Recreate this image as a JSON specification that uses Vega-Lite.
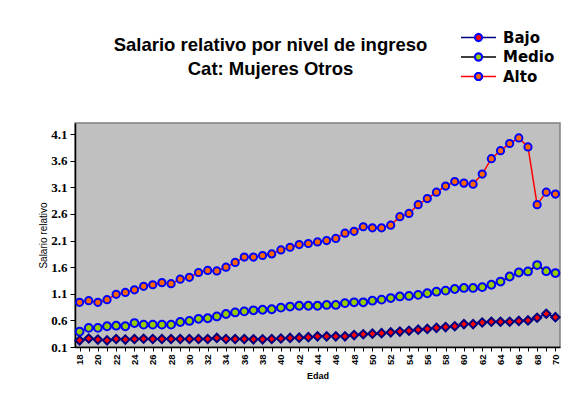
{
  "$schema": "https://vega.github.io/schema/vega-lite/v6.json",
  "width": 485,
  "height": 224,
  "autosize": {"type": "none"},
  "padding": {"left": 75, "top": 123, "right": 24, "bottom": 55},
  "background": "#FFFFFF",
  "title": {
    "text": ["Salario relativo por nivel de ingreso", "Cat: Mujeres Otros"],
    "font": "Liberation Sans",
    "fontSize": 18.5,
    "fontWeight": "bold",
    "color": "#000000",
    "anchor": "middle",
    "dx": -47,
    "dy": 112,
    "baseline": "alphabetic",
    "lineHeight": 24,
    "offset": 49
  },
  "data": {
    "values": [
      {"edad": 18, "Bajo": 0.225, "Medio": 0.39, "Alto": 0.94},
      {"edad": 19, "Bajo": 0.26, "Medio": 0.46, "Alto": 0.97},
      {"edad": 20, "Bajo": 0.24, "Medio": 0.46, "Alto": 0.94},
      {"edad": 21, "Bajo": 0.225, "Medio": 0.49, "Alto": 0.99},
      {"edad": 22, "Bajo": 0.25, "Medio": 0.5, "Alto": 1.09},
      {"edad": 23, "Bajo": 0.24, "Medio": 0.49, "Alto": 1.125},
      {"edad": 24, "Bajo": 0.25, "Medio": 0.55, "Alto": 1.175},
      {"edad": 25, "Bajo": 0.255, "Medio": 0.52, "Alto": 1.24},
      {"edad": 26, "Bajo": 0.25, "Medio": 0.52, "Alto": 1.27},
      {"edad": 27, "Bajo": 0.25, "Medio": 0.52, "Alto": 1.31},
      {"edad": 28, "Bajo": 0.25, "Medio": 0.52, "Alto": 1.29},
      {"edad": 29, "Bajo": 0.25, "Medio": 0.57, "Alto": 1.375},
      {"edad": 30, "Bajo": 0.25, "Medio": 0.59, "Alto": 1.41},
      {"edad": 31, "Bajo": 0.25, "Medio": 0.63, "Alto": 1.5},
      {"edad": 32, "Bajo": 0.25, "Medio": 0.64, "Alto": 1.54},
      {"edad": 33, "Bajo": 0.27, "Medio": 0.675, "Alto": 1.53},
      {"edad": 34, "Bajo": 0.25, "Medio": 0.72, "Alto": 1.6},
      {"edad": 35, "Bajo": 0.25, "Medio": 0.75, "Alto": 1.69},
      {"edad": 36, "Bajo": 0.25, "Medio": 0.77, "Alto": 1.79},
      {"edad": 37, "Bajo": 0.245, "Medio": 0.79, "Alto": 1.79},
      {"edad": 38, "Bajo": 0.245, "Medio": 0.8, "Alto": 1.82},
      {"edad": 39, "Bajo": 0.25, "Medio": 0.81, "Alto": 1.85},
      {"edad": 40, "Bajo": 0.26, "Medio": 0.84, "Alto": 1.925},
      {"edad": 41, "Bajo": 0.27, "Medio": 0.86, "Alto": 1.975},
      {"edad": 42, "Bajo": 0.275, "Medio": 0.875, "Alto": 2.025},
      {"edad": 43, "Bajo": 0.285, "Medio": 0.875, "Alto": 2.045},
      {"edad": 44, "Bajo": 0.3, "Medio": 0.875, "Alto": 2.075},
      {"edad": 45, "Bajo": 0.3, "Medio": 0.89, "Alto": 2.1},
      {"edad": 46, "Bajo": 0.3, "Medio": 0.89, "Alto": 2.14},
      {"edad": 47, "Bajo": 0.3, "Medio": 0.925, "Alto": 2.24},
      {"edad": 48, "Bajo": 0.325, "Medio": 0.94, "Alto": 2.275},
      {"edad": 49, "Bajo": 0.34, "Medio": 0.94, "Alto": 2.36},
      {"edad": 50, "Bajo": 0.35, "Medio": 0.97, "Alto": 2.34},
      {"edad": 51, "Bajo": 0.36, "Medio": 0.99, "Alto": 2.34},
      {"edad": 52, "Bajo": 0.375, "Medio": 1.02, "Alto": 2.39},
      {"edad": 53, "Bajo": 0.39, "Medio": 1.05, "Alto": 2.55},
      {"edad": 54, "Bajo": 0.405, "Medio": 1.06, "Alto": 2.61},
      {"edad": 55, "Bajo": 0.425, "Medio": 1.08, "Alto": 2.775},
      {"edad": 56, "Bajo": 0.44, "Medio": 1.11, "Alto": 2.89},
      {"edad": 57, "Bajo": 0.46, "Medio": 1.14, "Alto": 3.01},
      {"edad": 58, "Bajo": 0.475, "Medio": 1.16, "Alto": 3.125},
      {"edad": 59, "Bajo": 0.49, "Medio": 1.19, "Alto": 3.21},
      {"edad": 60, "Bajo": 0.53, "Medio": 1.21, "Alto": 3.18},
      {"edad": 61, "Bajo": 0.53, "Medio": 1.21, "Alto": 3.16},
      {"edad": 62, "Bajo": 0.56, "Medio": 1.225, "Alto": 3.35},
      {"edad": 63, "Bajo": 0.575, "Medio": 1.27, "Alto": 3.64},
      {"edad": 64, "Bajo": 0.575, "Medio": 1.33, "Alto": 3.79},
      {"edad": 65, "Bajo": 0.575, "Medio": 1.425, "Alto": 3.925},
      {"edad": 66, "Bajo": 0.59, "Medio": 1.5, "Alto": 4.03},
      {"edad": 67, "Bajo": 0.6, "Medio": 1.52, "Alto": 3.86},
      {"edad": 68, "Bajo": 0.65, "Medio": 1.64, "Alto": 2.775},
      {"edad": 69, "Bajo": 0.725, "Medio": 1.525, "Alto": 3.01},
      {"edad": 70, "Bajo": 0.66, "Medio": 1.49, "Alto": 2.975}
    ]
  },
  "transform": [
    {"fold": ["Bajo", "Medio", "Alto"], "as": ["serie", "valor"]}
  ],
  "encoding": {
    "x": {
      "field": "edad",
      "type": "quantitative",
      "scale": {"domain": [17.5, 70.5], "nice": false, "zero": false},
      "axis": {
        "title": "Edad",
        "values": [18,19,20,21,22,23,24,25,26,27,28,29,30,31,32,33,34,35,36,37,38,39,40,41,42,43,44,45,46,47,48,49,50,51,52,53,54,55,56,57,58,59,60,61,62,63,64,65,66,67,68,69,70],
        "labelExpr": "datum.value % 2 == 0 ? datum.label : ''",
        "labelAngle": 270,
        "labelFont": "Liberation Sans",
        "labelFontSize": 9.5,
        "labelFontWeight": "bold",
        "labelColor": "#000000",
        "labelPadding": 3,
        "labelOverlap": false,
        "labelBound": false,
        "tickColor": "#000000",
        "tickSize": 4,
        "domainColor": "#000000",
        "domainWidth": 1.5,
        "grid": false,
        "titleFont": "Liberation Sans",
        "titleFontSize": 9,
        "titleFontWeight": "bold",
        "titleColor": "#000000",
        "titlePadding": 7
      }
    },
    "y": {
      "field": "valor",
      "type": "quantitative",
      "scale": {"domain": [0.1, 4.31], "nice": false, "zero": false},
      "axis": {
        "title": "Salario relativo",
        "values": [0.1, 0.6, 1.1, 1.6, 2.1, 2.6, 3.1, 3.6, 4.1],
        "format": ".1f",
        "labelFont": "Liberation Sans Narrow",
        "labelFontSize": 13,
        "labelFontWeight": "bold",
        "labelColor": "#000000",
        "labelPadding": 3,
        "labelOverlap": false,
        "labelBound": false,
        "tickColor": "#000000",
        "tickSize": 5,
        "domainColor": "#000000",
        "domainWidth": 1.5,
        "grid": false,
        "titleFont": "Liberation Sans",
        "titleFontSize": 10,
        "titleFontWeight": "normal",
        "titleColor": "#000000",
        "titlePadding": 2
      }
    }
  },
  "layer": [
    {
      "mark": {"type": "line", "strokeWidth": 1.5},
      "encoding": {
        "stroke": {
          "field": "serie",
          "type": "nominal",
          "scale": {"domain": ["Bajo", "Medio", "Alto"], "range": ["#000080", "#000000", "#FF0000"]},
          "legend": {
            "title": null,
            "orient": "none",
            "legendX": 396,
            "legendY": -93,
            "symbolType": "M-5,0H5",
            "symbolSize": 49,
            "symbolStrokeWidth": 1.5,
            "labelFont": "DejaVu Sans",
            "labelFontSize": 15,
            "labelFontWeight": "bold",
            "labelColor": "#000000",
            "labelOffset": 17,
            "rowPadding": 3.5
          }
        }
      }
    },
    {
      "mark": {"type": "point", "filled": true, "strokeWidth": 2, "stroke": "#0000FF", "opacity": 1},
      "encoding": {
        "fill": {
          "field": "serie",
          "type": "nominal",
          "sort": ["Bajo", "Medio", "Alto"],
          "scale": {"range": ["#FF0000", "#99CC00", "#FF6600"]},
          "legend": {
            "title": null,
            "orient": "none",
            "legendX": 396,
            "legendY": -93,
            "symbolSize": 49,
            "symbolStrokeWidth": 2,
            "labelFont": "DejaVu Sans",
            "labelFontSize": 15,
            "labelFontWeight": "bold",
            "labelOpacity": 0,
            "labelOffset": 17,
            "rowPadding": 3.5,
            "encode": {
              "symbols": {
                "update": {
                  "stroke": {"signal": "datum.value === 'Bajo' ? '#000080' : '#0000FF'"},
                  "strokeWidth": {"value": 2},
                  "opacity": {"value": 1}
                }
              }
            }
          }
        },
        "shape": {
          "field": "serie",
          "type": "nominal",
          "sort": ["Bajo", "Medio", "Alto"],
          "scale": {"range": ["diamond", "circle", "circle"]},
          "legend": {
            "title": null,
            "orient": "none",
            "legendX": 396,
            "legendY": -93,
            "symbolSize": 49,
            "symbolStrokeWidth": 2,
            "labelFont": "DejaVu Sans",
            "labelFontSize": 15,
            "labelFontWeight": "bold",
            "labelOpacity": 0,
            "labelOffset": 17,
            "rowPadding": 3.5,
            "encode": {
              "symbols": {
                "update": {
                  "stroke": {"signal": "datum.value === 'Bajo' ? '#000080' : '#0000FF'"},
                  "strokeWidth": {"value": 2},
                  "opacity": {"value": 1}
                }
              }
            }
          }
        },
        "size": {
          "field": "serie",
          "type": "nominal",
          "sort": ["Bajo", "Medio", "Alto"],
          "scale": {"range": [70, 52, 52]},
          "legend": null
        },
        "stroke": {
          "condition": {"test": "datum.serie === 'Bajo'", "value": "#000080"},
          "value": "#0000FF"
        }
      }
    }
  ],
  "config": {
    "view": {"fill": "#C0C0C0", "stroke": "#808080", "strokeWidth": 1.5}
  }
}
